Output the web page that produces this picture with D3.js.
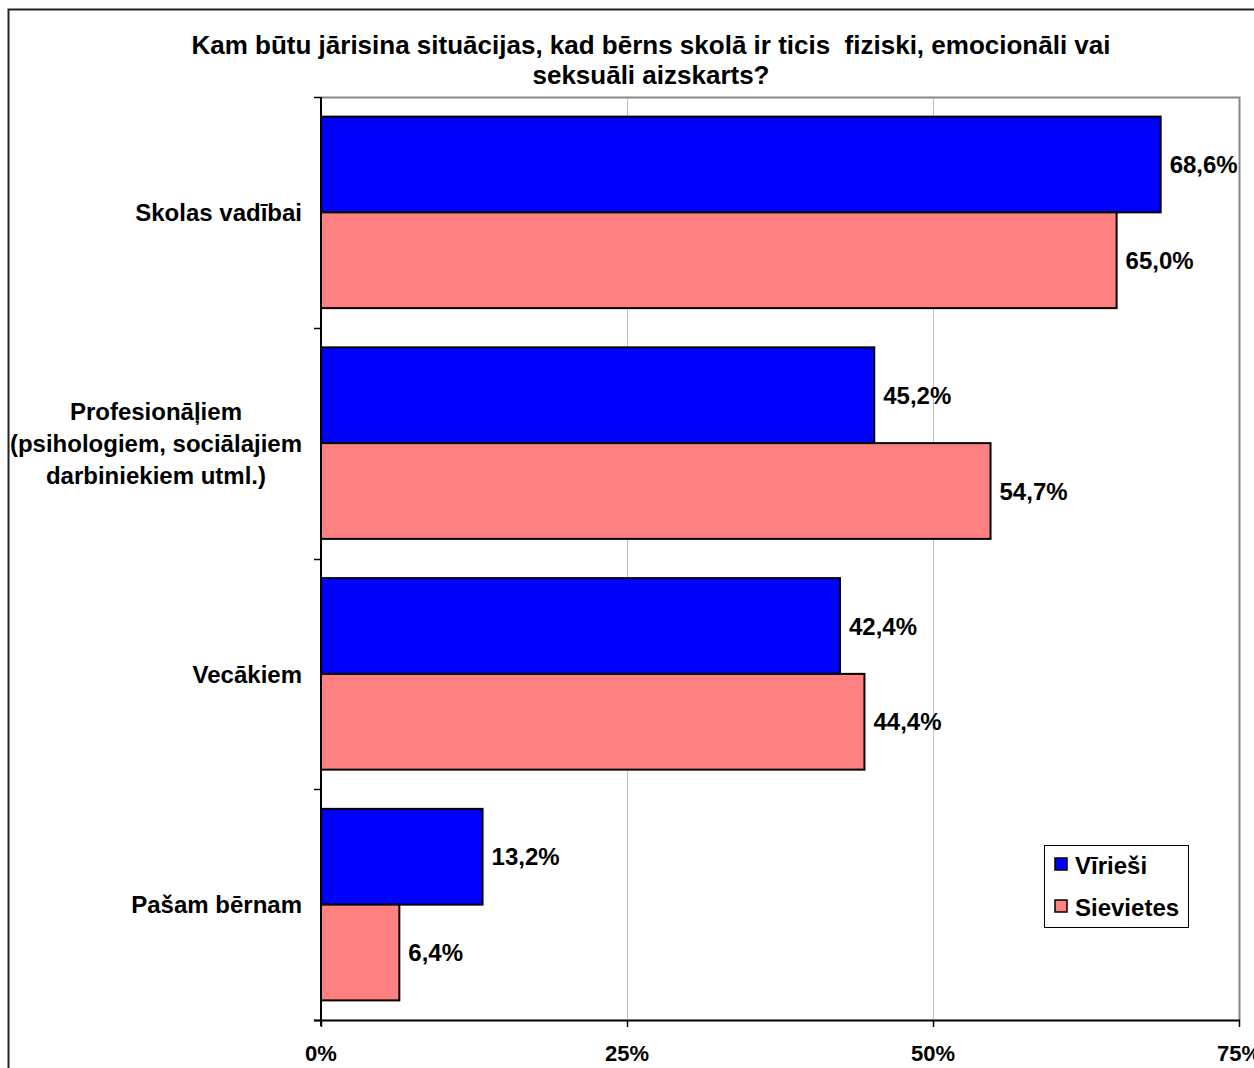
<!DOCTYPE html>
<html>
<head>
<meta charset="utf-8">
<script src="https://cdn.jsdelivr.net/npm/d3@7"></script>
<style>
  body { margin: 0; background: #fff; }
  text { font-family: "Liberation Sans", Arial, sans-serif; font-weight: bold; fill: #000; }
</style>
</head>
<body>
<div id="chart"></div>
<script>
var titleLines = ["Kam būtu jārisina situācijas, kad bērns skolā ir ticis  fiziski, emocionāli vai", "seksuāli aizskarts?"];
var categories = ["Skolas vadībai", "Profesionāļiem (psihologiem, sociālajiem darbiniekiem utml.)", "Vecākiem", "Pašam bērnam"];
var categoryLines = [["Skolas vadībai"], ["Profesionāļiem", "(psihologiem, sociālajiem", "darbiniekiem utml.)"], ["Vecākiem"], ["Pašam bērnam"]];
var seriesNames = ["Vīrieši", "Sievietes"];
var seriesColors = ["#0000FF", "#FF8080"];
var men = [68.6, 45.2, 42.4, 13.2];
var women = [65.0, 54.7, 44.4, 6.4];
var xTicks = [0, 25, 50, 75];

var ctx = {
    w: 1254,
    h: 1068,
    left: 321,
    right: 1239,
    top: 97,
    bottom: 1020,
    font: 24,
};

var svg = d3.select("#chart").append("svg")
    .attr("width", ctx.w)
    .attr("height", ctx.h);

// outer frame
svg.append("rect")
    .attr("x", 8.5).attr("y", 9.5)
    .attr("width", 1260).attr("height", 1080)
    .attr("fill", "white")
    .attr("stroke", "#222")
    .attr("stroke-width", 2);

// title
svg.append("g").selectAll("text")
    .data(titleLines)
    .enter().append("text")
    .attr("x", 651)
    .attr("y", (d, i) => 54 + i * 30)
    .attr("text-anchor", "middle")
    .attr("font-size", "26px")
    .style("white-space", "pre")
    .text(d => d);

var x = d3.scaleLinear().domain([0, 75]).range([ctx.left, ctx.right]);
var y0 = d3.scaleBand().domain(categories).range([ctx.top, ctx.bottom]).paddingInner(0.17).paddingOuter(0.085);
var y1 = d3.scaleBand().domain(seriesNames).range([0, y0.bandwidth()]);

// gridlines
svg.append("g").selectAll("line")
    .data(xTicks.slice(1))
    .enter().append("line")
    .attr("x1", d => x(d) + 0.5).attr("x2", d => x(d) + 0.5)
    .attr("y1", ctx.top).attr("y2", ctx.bottom)
    .attr("stroke", "#c0c0c0")
    .attr("stroke-width", 1);

// plot area top + right border
svg.append("path")
    .attr("d", "M" + ctx.left + "," + (ctx.top + 0.5) + "H" + (ctx.right + 0.5) + "V" + ctx.bottom)
    .attr("fill", "none")
    .attr("stroke", "#888")
    .attr("stroke-width", 2);

// bars
var data = categories.map((c, i) => ({ cat: c, vals: [men[i], women[i]] }));
var groups = svg.append("g").selectAll("g")
    .data(data)
    .enter().append("g")
    .attr("transform", d => "translate(0," + y0(d.cat) + ")");

groups.selectAll("rect")
    .data(d => d.vals.map((v, j) => ({ v: v, s: seriesNames[j], j: j })))
    .enter().append("rect")
    .attr("x", x(0))
    .attr("y", d => y1(d.s))
    .attr("width", d => x(d.v) - x(0))
    .attr("height", y1.bandwidth())
    .attr("fill", d => seriesColors[d.j])
    .attr("stroke", "#000")
    .attr("stroke-width", 2);

groups.selectAll("text")
    .data(d => d.vals.map((v, j) => ({ v: v, s: seriesNames[j] })))
    .enter().append("text")
    .attr("x", d => x(d.v) + 9)
    .attr("y", d => y1(d.s) + y1.bandwidth() / 2)
    .attr("dy", "0.36em")
    .attr("font-size", ctx.font + "px")
    .text(d => d.v.toFixed(1).replace(".", ",") + "%");

// y axis
var yAxisG = svg.append("g");
yAxisG.append("line")
    .attr("x1", ctx.left).attr("x2", ctx.left)
    .attr("y1", ctx.top).attr("y2", ctx.bottom + 6)
    .attr("stroke", "#000").attr("stroke-width", 2);
var bounds = d3.range(categories.length + 1).map(i => ctx.top + i * (ctx.bottom - ctx.top) / categories.length);
yAxisG.selectAll(".tick")
    .data(bounds)
    .enter().append("line")
    .attr("x1", ctx.left - 7).attr("x2", ctx.left)
    .attr("y1", d => Math.round(d) + 0.5).attr("y2", d => Math.round(d) + 0.5)
    .attr("stroke", "#000").attr("stroke-width", 1.5);

// category labels, lines centred, block right-aligned
categories.forEach(function(c, i) {
    var lines = categoryLines[i];
    var cy = y0(c) + y0.bandwidth() / 2;
    var g = svg.append("g");
    var texts = g.selectAll("text")
        .data(lines)
        .enter().append("text")
        .attr("font-size", ctx.font + "px")
        .attr("text-anchor", "middle")
        .attr("dy", "0.36em")
        .attr("y", (d, k) => cy + (k - (lines.length - 1) / 2) * 32)
        .text(d => d);
    var maxW = d3.max(texts.nodes(), n => n.getComputedTextLength());
    texts.attr("x", 302 - maxW / 2);
});

// x axis
var xAxisG = svg.append("g");
xAxisG.append("line")
    .attr("x1", ctx.left - 7).attr("x2", ctx.right + 1)
    .attr("y1", ctx.bottom + 0.5).attr("y2", ctx.bottom + 0.5)
    .attr("stroke", "#000").attr("stroke-width", 2);
xAxisG.selectAll(".tick")
    .data(xTicks)
    .enter().append("line")
    .attr("x1", d => x(d) + 0.5).attr("x2", d => x(d) + 0.5)
    .attr("y1", ctx.bottom).attr("y2", ctx.bottom + 7)
    .attr("stroke", "#000").attr("stroke-width", 1.5);
xAxisG.selectAll("text")
    .data(xTicks)
    .enter().append("text")
    .attr("x", d => x(d))
    .attr("y", 1061)
    .attr("text-anchor", "middle")
    .attr("font-size", "22px")
    .text(d => d + "%");

// legend
var legend = svg.append("g").attr("transform", "translate(1044,845)");
legend.append("rect")
    .attr("x", 0.5).attr("y", 0.5)
    .attr("width", 144).attr("height", 82)
    .attr("fill", "white")
    .attr("stroke", "#000").attr("stroke-width", 1);
var items = legend.selectAll(".item")
    .data(seriesNames)
    .enter().append("g")
    .attr("transform", (d, i) => "translate(0," + (19 + i * 42) + ")");
items.append("rect")
    .attr("x", 11).attr("y", -6)
    .attr("width", 12).attr("height", 12)
    .attr("fill", (d, i) => seriesColors[i])
    .attr("stroke", "#000").attr("stroke-width", 1.5);
items.append("text")
    .attr("x", 31)
    .attr("y", 1)
    .attr("dy", "0.36em")
    .attr("font-size", ctx.font + "px")
    .text(d => d);
</script>
</body>
</html>
